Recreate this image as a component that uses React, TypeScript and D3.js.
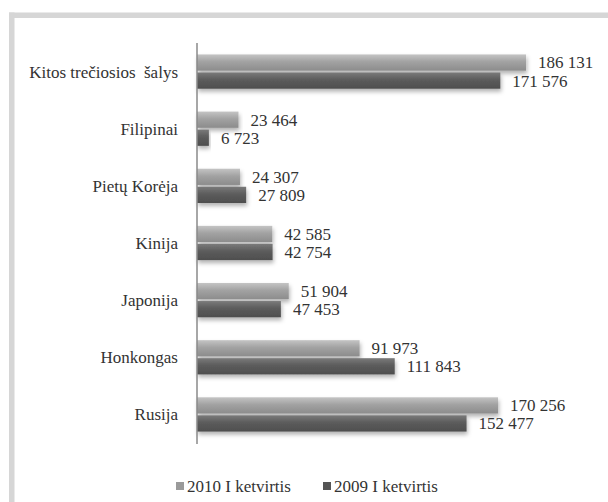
import React from "react";
import * as d3 from "d3";

const categories = [
  "Kitos trečiosios  šalys",
  "Filipinai",
  "Pietų Korėja",
  "Kinija",
  "Japonija",
  "Honkongas",
  "Rusija",
];
const series2010 = [186131, 23464, 24307, 42585, 51904, 91973, 170256];
const series2009 = [171576, 6723, 27809, 42754, 47453, 111843, 152477];
const seriesNames = ["2010 I ketvirtis", "2009 I ketvirtis"];

const W = 608;
const H = 502;
const FONT = "'Liberation Serif', 'DejaVu Serif', 'Times New Roman', Times, serif";

const fmt = (v: number) => {
  const s = String(v);
  return s.replace(/\B(?=(\d{3})+(?!\d))/g, " ");
};

export default function App() {
  const x = d3.scaleLinear().domain([0, 170256]).range([197, 498]);
  const y = d3
    .scaleBand<string>()
    .domain(categories)
    .range([43, 443])
    .paddingInner(0.4)
    .paddingOuter(0.2);
  const inner = d3
    .scaleBand<string>()
    .domain(["a", "b"])
    .range([0, y.bandwidth()])
    .paddingInner(0.1);

  const series = [
    { key: "a", values: series2010, fill: "url(#gLight)" },
    { key: "b", values: series2009, fill: "url(#gDark)" },
  ];

  return (
    <div style={{ position: "absolute", left: 0, top: 0, fontFamily: FONT }}>
      <svg width={W} height={H} style={{ display: "block", background: "#fff" }}>
        <defs>
          <linearGradient id="gLight" x1="0" y1="0" x2="0" y2="1">
            <stop offset="0" stopColor="#c4c4c4" />
            <stop offset="0.45" stopColor="#a2a2a2" />
            <stop offset="1" stopColor="#8c8c8c" />
          </linearGradient>
          <linearGradient id="gDark" x1="0" y1="0" x2="0" y2="1">
            <stop offset="0" stopColor="#7a7a7a" />
            <stop offset="0.45" stopColor="#5c5c5c" />
            <stop offset="1" stopColor="#4e4e4e" />
          </linearGradient>
          <filter id="shadow" x="-5%" y="-30%" width="115%" height="190%">
            <feDropShadow dx="1" dy="3" stdDeviation="2" floodColor="#000" floodOpacity="0.3" />
          </filter>
        </defs>

        {/* frame */}
        <rect x={9} y={12.5} width={W - 9} height={5.5} fill="#d6d6d6" />
        <rect x={9} y={12.5} width={5.5} height={H - 12.5} fill="#d6d6d6" />

        {/* bars */}
        {series.map((s) =>
          categories.map((c, i) => {
            const by = (y(c) as number) + (inner(s.key) as number);
            return (
              <rect
                key={s.key + c}
                x={x(0)}
                y={by}
                width={x(s.values[i]) - x(0)}
                height={inner.bandwidth()}
                fill={s.fill}
                filter="url(#shadow)"
              />
            );
          })
        )}

        <g fontFamily={FONT} fontSize={17} fill="#333">
          {/* value labels */}
          {series.map((s) =>
            categories.map((c, i) => {
              const by = (y(c) as number) + (inner(s.key) as number) + inner.bandwidth() / 2;
              return (
                <text key={"l" + s.key + c} x={x(s.values[i]) + 12} y={by} dy="0.35em">
                  {fmt(s.values[i])}
                </text>
              );
            })
          )}

          {/* category labels */}
          {categories.map((c) => (
            <text
              key={"c" + c}
              x={178}
              y={(y(c) as number) + y.bandwidth() / 2}
              dy="0.35em"
              textAnchor="end"
              style={{ whiteSpace: "pre" }}
            >
              {c}
            </text>
          ))}

          {/* legend */}
          {seriesNames.map((n, i) => {
            const lx = i === 0 ? 176 : 323;
            return (
              <g key={n}>
                <rect x={lx} y={482} width={8} height={8} fill={i === 0 ? "#9a9a9a" : "#555"} />
                <text x={lx + 11} y={486} dy="0.35em">
                  {n}
                </text>
              </g>
            );
          })}
        </g>

        {/* axis */}
        <line x1={x(0)} x2={x(0)} y1={43} y2={444} stroke="#8a8a8a" strokeWidth={1.5} />
      </svg>
    </div>
  );
}
